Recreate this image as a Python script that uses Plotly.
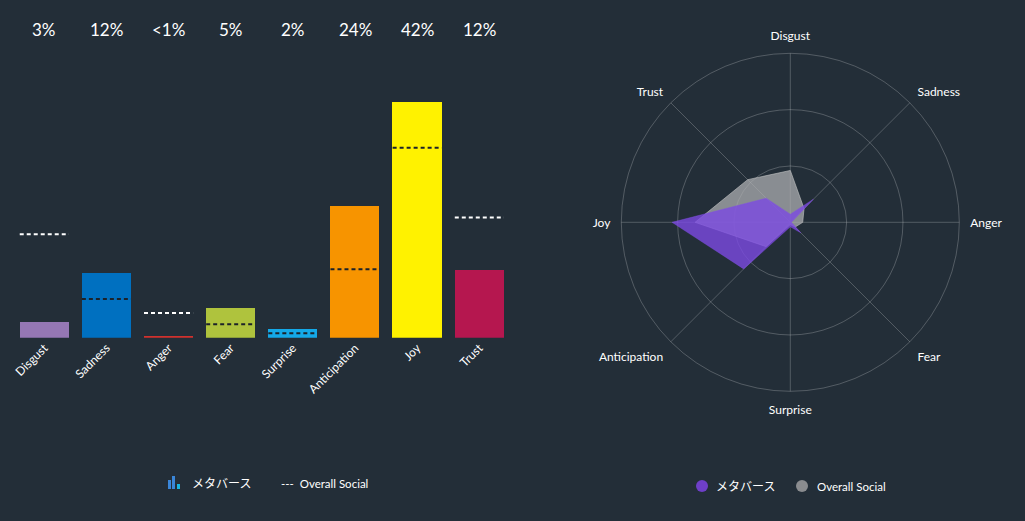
import plotly.graph_objects as go

W, H = 1025, 521

categories = ["Disgust", "Sadness", "Anger", "Fear", "Surprise", "Anticipation", "Joy", "Trust"]
metaverse = [2.9, 11.6, 0.4, 5.3, 1.6, 23.4, 42.0, 12.1]
overall = [18.4, 6.9, 4.4, 2.4, 0.8, 12.2, 33.8, 21.4]
pct_labels = ["3%", "12%", "<1%", "5%", "2%", "24%", "42%", "12%"]
bar_colors = ["#9577b4", "#0070c0", "#d0312d", "#afc33d", "#14a9e8", "#f79400", "#fff200", "#b5174f"]

radar_order = ["Disgust", "Sadness", "Anger", "Fear", "Surprise", "Anticipation", "Joy", "Trust"]

BG = "#232e38"
FONT = "Lato, 'Noto Sans CJK JP', sans-serif"

def px(x):
    return x / W

def py(y):
    return (H - y) / H

fig = go.Figure()

idx = list(range(len(categories)))
fig.add_trace(go.Bar(
    x=idx, y=metaverse, width=0.79, marker=dict(color=bar_colors, line=dict(width=0)),
    showlegend=False, hoverinfo="skip", xaxis="x", yaxis="y"))

# dashed overall-social reference lines
wx, wy, dx, dy = [], [], [], []
for i, (m, o) in enumerate(zip(metaverse, overall)):
    xs = [i - 0.395, i + 0.395, None]
    ys = [o, o, None]
    if o > m:
        wx += xs; wy += ys
    else:
        dx += xs; dy += ys
fig.add_trace(go.Scatter(x=wx, y=wy, mode="lines", line=dict(color="#ffffff", width=2, dash="4px,3px"),
                         showlegend=False, hoverinfo="skip", xaxis="x", yaxis="y"))
fig.add_trace(go.Scatter(x=dx, y=dy, mode="lines", line=dict(color="#1c2229", width=2, dash="4px,3px"),
                         showlegend=False, hoverinfo="skip", xaxis="x", yaxis="y"))

# radar
o_map = dict(zip(categories, overall))
m_map = dict(zip(categories, metaverse))
theta = radar_order + [radar_order[0]]
fig.add_trace(go.Scatterpolar(
    r=[o_map[c] for c in theta], theta=theta, fill="toself", mode="lines",
    line=dict(color="rgba(185,187,189,0.85)", width=0.8),
    fillcolor="rgba(172,174,176,0.75)", showlegend=False, hoverinfo="skip"))
fig.add_trace(go.Scatterpolar(
    r=[m_map[c] for c in theta], theta=theta, fill="toself", mode="lines",
    line=dict(color="rgba(130,80,230,0.8)", width=0.5),
    fillcolor="rgba(124,74,226,0.8)", showlegend=False, hoverinfo="skip"))

cx, cy, R = 790.3, 222.3, 169

annotations = []
for i, t in enumerate(pct_labels):
    annotations.append(dict(x=i, xref="x", y=py(29.5), yref="paper", text=t, showarrow=False,
                            font=dict(family=FONT, size=17, color="#ffffff"), xanchor="center", yanchor="middle"))

annotations += [
    dict(x=px(190), y=py(483), xref="paper", yref="paper", text="メタバース", showarrow=False,
         xanchor="left", yanchor="middle", font=dict(family=FONT, size=12, color="#ffffff")),
    dict(x=px(279), y=py(483), xref="paper", yref="paper", text="---  Overall Social", showarrow=False,
         xanchor="left", yanchor="middle", font=dict(family=FONT, size=11.5, color="#ffffff")),
    dict(x=px(714), y=py(486), xref="paper", yref="paper", text="メタバース", showarrow=False,
         xanchor="left", yanchor="middle", font=dict(family=FONT, size=12, color="#ffffff")),
    dict(x=px(815), y=py(486), xref="paper", yref="paper", text="Overall Social", showarrow=False,
         xanchor="left", yanchor="middle", font=dict(family=FONT, size=11.5, color="#ffffff")),
]

shapes = []
def rect(x0, y0, x1, y1, color):
    return dict(type="rect", xref="paper", yref="paper", x0=px(x0), x1=px(x1), y0=py(y1), y1=py(y0),
                fillcolor=color, line=dict(width=0), layer="above")
shapes += [rect(168, 480, 171, 489, "#3a86d8"), rect(172, 476, 175, 489, "#3a86d8"), rect(177, 484, 180, 489, "#19b5e0")]
shapes += [
    dict(type="circle", xref="paper", yref="paper", x0=px(696), x1=px(708), y0=py(492), y1=py(480),
         fillcolor="#6e3fc8", line=dict(width=0)),
    dict(type="circle", xref="paper", yref="paper", x0=px(796), x1=px(808), y0=py(492), y1=py(480),
         fillcolor="#8a8c8f", line=dict(width=0)),
]

grid = "rgba(255,255,255,0.22)"
fig.update_layout(
    width=W, height=H, margin=dict(l=0, r=0, t=0, b=0),
    paper_bgcolor=BG, plot_bgcolor=BG,
    font=dict(family=FONT, color="#ffffff"),
    xaxis=dict(domain=[px(13.2), px(510.4)], range=[-0.5, 7.5], tickmode="array", tickvals=idx,
               ticktext=categories, tickangle=-45, showgrid=False, zeroline=False, showline=False,
               tickfont=dict(family=FONT, size=12, color="#ffffff"), fixedrange=True),
    yaxis=dict(domain=[py(337.7), py(337.7 - 45 * 5.62)], range=[0, 45], visible=False,
               showgrid=False, zeroline=False, fixedrange=True),
    polar=dict(
        domain=dict(x=[px(cx - R), px(cx + R)], y=[py(cy + R), py(cy - R)]),
        bgcolor="rgba(0,0,0,0)",
        radialaxis=dict(range=[0, 60], tickvals=[20, 40, 60], showticklabels=False, ticks="",
                        gridcolor=grid, showline=False, gridwidth=1),
        angularaxis=dict(categoryorder="array", categoryarray=radar_order, rotation=90, direction="clockwise",
                         gridcolor=grid, linecolor=grid, showline=True, ticks="outside", ticklen=8,
                         tickcolor="rgba(0,0,0,0)",
                         tickfont=dict(family=FONT, size=12, color="#ffffff")),
    ),
    annotations=annotations, shapes=shapes, bargap=0,
)

fig.write_html("out.html")
